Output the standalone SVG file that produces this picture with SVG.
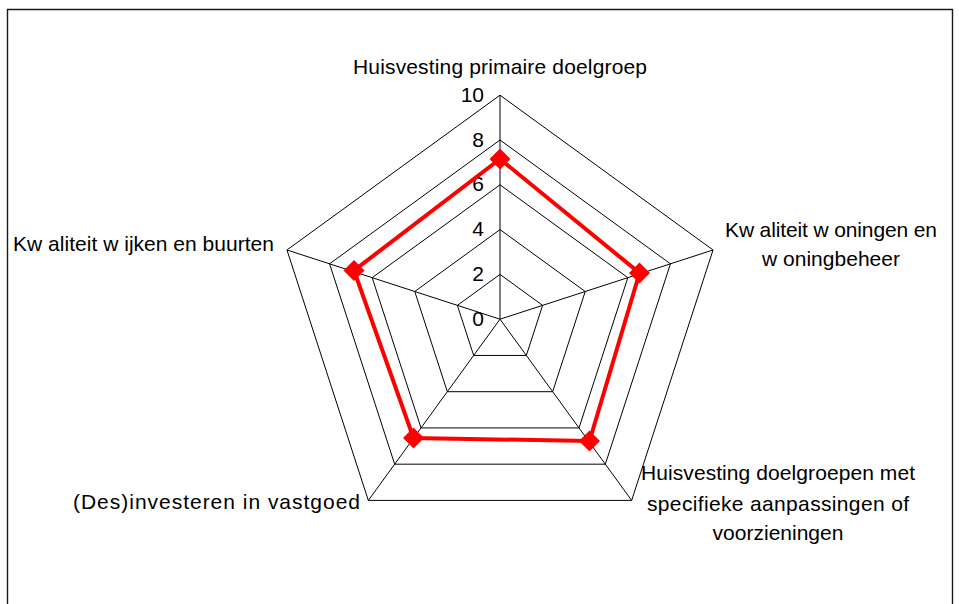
<svg xmlns="http://www.w3.org/2000/svg" width="959" height="604" viewBox="0 0 959 604">
<style>
.grid{fill:none;stroke:#000;stroke-width:1}
.lbl{font-family:"Liberation Sans",Arial,sans-serif;font-size:21px;fill:#000}
.mid{text-anchor:middle}
.tick{font-family:"Liberation Sans",Arial,sans-serif;font-size:21px;fill:#000;text-anchor:end}
.series{fill:none;stroke:#ff0000;stroke-width:4;stroke-linejoin:miter}
.mk{fill:#ff0000}
</style>
<defs>
<path id="dia" d="M0,-10.5 L10.5,0 L0,10.5 L-10.5,0 Z"/>
</defs>
<rect x="0" y="0" width="959" height="604" fill="#fff"/>
<path d="M7.5,604 V9.5 H952.5 V604" fill="none" stroke="#1a1a1a" stroke-width="1.4"/>
<g id="grid">
<polygon class="grid" points="500,95.2 713.04,249.98 631.66,500.42 368.34,500.42 286.96,249.98"/>
<polygon class="grid" points="500,140 670.43,263.82 605.33,464.18 394.67,464.18 329.57,263.82"/>
<polygon class="grid" points="500,184.8 627.82,277.67 579,427.93 421,427.93 372.18,277.67"/>
<polygon class="grid" points="500,229.6 585.22,291.51 552.67,391.69 447.33,391.69 414.78,291.51"/>
<polygon class="grid" points="500,274.4 542.61,305.36 526.33,355.44 473.67,355.44 457.39,305.36"/>
<path class="grid" d="M500,319.2 L500,95.2 M500,319.2 L713.04,249.98 M500,319.2 L631.66,500.42 M500,319.2 L368.34,500.42 M500,319.2 L286.96,249.98"/>
</g>
<g id="ticks">
<text class="tick" x="484" y="101.8">10</text>
<text class="tick" x="484" y="146.6">8</text>
<text class="tick" x="484" y="191.4">6</text>
<text class="tick" x="484" y="236.2">4</text>
<text class="tick" x="484" y="281">2</text>
<text class="tick" x="484" y="325.8">0</text>
</g>
<g id="connectors">
<polygon class="series" points="500,159 639.5,273 589.5,441 413.5,438 354,270.5"/>
</g>
<g id="markers">
<use href="#dia" class="mk" x="500" y="159"/>
<use href="#dia" class="mk" x="639.5" y="273"/>
<use href="#dia" class="mk" x="589.5" y="441"/>
<use href="#dia" class="mk" x="413.5" y="438"/>
<use href="#dia" class="mk" x="354" y="270.5"/>
</g>
<g id="node-top">
<text class="lbl mid" x="500" y="74" textLength="294" lengthAdjust="spacing">Huisvesting primaire doelgroep</text>
</g>
<g id="node-right">
<text class="lbl mid" x="831" y="236.5" textLength="212" lengthAdjust="spacing">Kw aliteit w oningen en</text>
<text class="lbl mid" x="831" y="265.5" textLength="138" lengthAdjust="spacing">w oningbeheer</text>
</g>
<g id="node-lower-right">
<text class="lbl mid" x="778" y="480" textLength="274" lengthAdjust="spacing">Huisvesting doelgroepen met</text>
<text class="lbl mid" x="778" y="510.5" textLength="262" lengthAdjust="spacing">specifieke aanpassingen of</text>
<text class="lbl mid" x="778" y="540">voorzieningen</text>
</g>
<g id="node-lower-left">
<text class="lbl" x="73" y="509" textLength="287" lengthAdjust="spacing">(Des)investeren in vastgoed</text>
</g>
<g id="node-left">
<text class="lbl" x="13" y="251" textLength="261" lengthAdjust="spacing">Kw aliteit w ijken en buurten</text>
</g>
</svg>
